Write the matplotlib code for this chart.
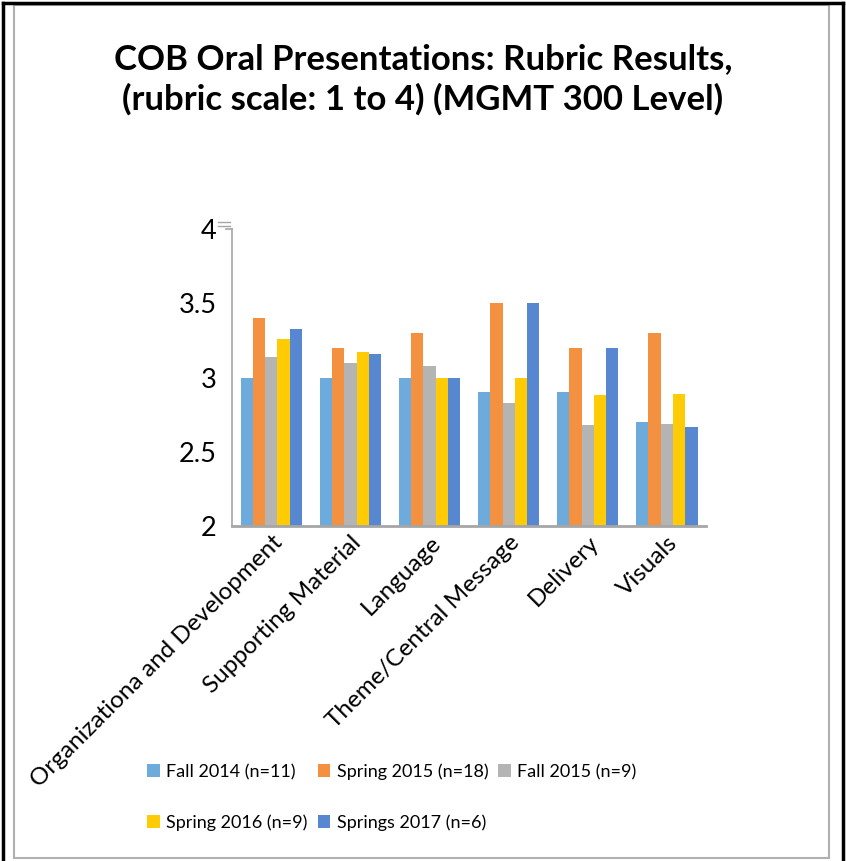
import matplotlib.pyplot as plt
import numpy as np
from matplotlib.lines import Line2D
from matplotlib.patches import Rectangle

plt.rcParams['font.family'] = ['Lato', 'DejaVu Sans']

categories = ["Organizationa and Development", "Supporting Material", "Language",
              "Theme/Central Message", "Delivery", "Visuals"]
series_names = ["Fall 2014 (n=11)", "Spring 2015 (n=18)", "Fall 2015 (n=9)",
                "Spring 2016 (n=9)", "Springs 2017 (n=6)"]
fall_2014 = [3.0, 3.0, 3.0, 2.9, 2.9, 2.7]
spring_2015 = [3.4, 3.2, 3.3, 3.5, 3.2, 3.3]
fall_2015 = [3.14, 3.1, 3.08, 2.83, 2.68, 2.69]
spring_2016 = [3.26, 3.17, 3.0, 3.0, 2.88, 2.89]
spring_2017 = [3.33, 3.16, 3.0, 3.5, 3.2, 2.67]
colors = ["#6DABDC", "#F39140", "#B4B4B4", "#FFCB05", "#5687D0"]

series = [fall_2014, spring_2015, fall_2015, spring_2016, spring_2017]

fig = plt.figure(figsize=(8.46, 8.61), dpi=100)
ax = fig.add_axes([0.274, 0.389, 0.561, 0.345])

x = np.arange(len(categories))
w = 0.155
bars = []
for i, (vals, c) in enumerate(zip(series, colors)):
    b = ax.bar(x + (i - 2) * w, np.array(vals) - 2, width=w, bottom=2, color=c,
               label=series_names[i])
    bars.append(b)

ax.set_xlim(-0.5, 5.5)
ax.set_ylim(2, 4)
ax.set_yticks([2, 2.5, 3, 3.5, 4])
ax.set_yticklabels(["2", "2.5", "3", "3.5", "4"])
ax.tick_params(axis='y', length=0, labelsize=19.5, pad=11)
ax.tick_params(axis='x', length=0, labelsize=17.5, pad=4)
ax.set_xticks(x)
ax.set_xticklabels(categories, rotation=45, ha='right', rotation_mode='anchor')

for s in ['top', 'right']:
    ax.spines[s].set_visible(False)
ax.spines['left'].set_color('#A6A6A6')
ax.spines['left'].set_linewidth(1.2)
ax.spines['bottom'].set_color('#A6A6A6')
ax.spines['bottom'].set_linewidth(2)

# axis-break marks at the top of the value axis
for dy in (0.0, 0.014):
    ax.add_line(Line2D([-0.03, -0.004], [1.01 + dy, 1.01 + dy], transform=ax.transAxes,
                       color='#A6A6A6', lw=1, clip_on=False))
ax.add_line(Line2D([-0.012, 0.0], [1.0, 1.0], transform=ax.transAxes,
                   color='#A6A6A6', lw=1.2, clip_on=False))

fig.suptitle("COB Oral Presentations: Rubric Results,\n(rubric scale: 1 to 4) (MGMT 300 Level)",
             x=0.5, y=0.95, fontsize=25, fontweight='bold', linespacing=1.3)

# legend laid out in rows: 3 on the first, 2 on the second
order = [0, 3, 1, 4, 2]
handles = [bars[i] for i in order]
labels = [series_names[i] for i in order]
fig.legend(handles, labels, ncol=3, loc='center left', bbox_to_anchor=(0.155, 0.074),
           frameon=False, fontsize=13, handlelength=0.7, handleheight=0.7,
           handletextpad=0.35, columnspacing=0.55, labelspacing=1.9)

# page border
fig.add_artist(Rectangle((14 / 846, 1 - 858 / 861), 815 / 846, 853 / 861,
                         transform=fig.transFigure, fill=False, ec='#B0B0B0', lw=1.5))
fig.add_artist(Line2D([3 / 846, 3 / 846], [0, 1 - 3 / 861], transform=fig.transFigure,
                      color='black', lw=2.5))
fig.add_artist(Line2D([3 / 846, 843 / 846], [1 - 3 / 861, 1 - 3 / 861],
                      transform=fig.transFigure, color='black', lw=2.5))
fig.add_artist(Line2D([843 / 846, 843 / 846], [0, 1 - 3 / 861], transform=fig.transFigure,
                      color='black', lw=2.5))

fig.savefig("out.png", dpi=100)
